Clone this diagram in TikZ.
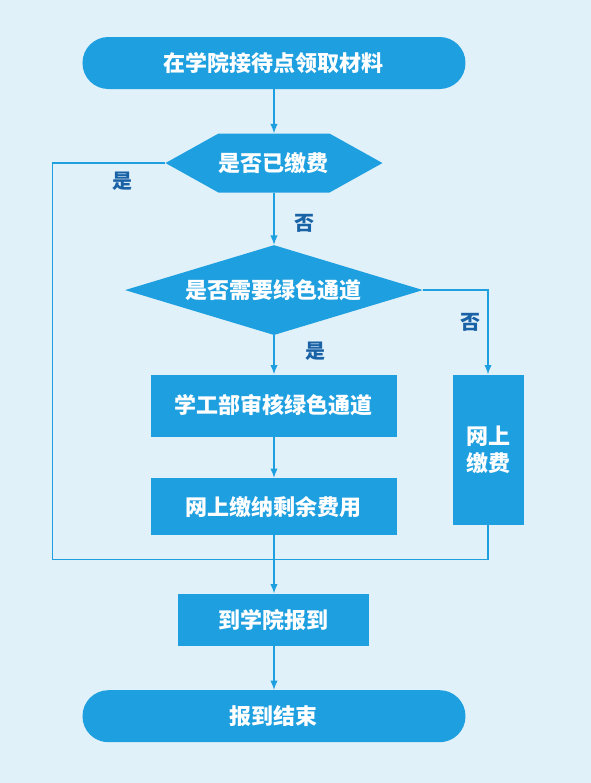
\documentclass[tikz,border=0pt]{standalone}
\usepackage{fontspec}
\newfontfamily\cjk{Noto Sans CJK SC}
\usepackage{tikz}
\usetikzlibrary{positioning}
\usetikzlibrary{arrows.meta}
\usetikzlibrary{shapes.geometric}
\definecolor{flowblue}{HTML}{1E9FE0}
\definecolor{paleblue}{HTML}{E1F1FA}
\definecolor{labelblue}{HTML}{1A62A6}
\tikzset{
  base/.style={fill=flowblue, text=white, inner sep=0pt,
    font=\cjk\bfseries\fontsize{16.5pt}{20pt}\selectfont},
  terminal/.style={base, rectangle, rounded corners=19.4pt,
    minimum width=287.25pt, minimum height=39pt},
  stepbox/.style={base, rectangle},
  hexcheck/.style={base, rectangle, fill=paleblue,
    minimum width=162.75pt, minimum height=44.25pt,
    path picture={\fill[flowblue] (path picture bounding box.west)
      -- ([xshift=39.75pt]path picture bounding box.north west)
      -- ([xshift=-39.75pt]path picture bounding box.north east)
      -- (path picture bounding box.east)
      -- ([xshift=-39.75pt]path picture bounding box.south east)
      -- ([xshift=39.75pt]path picture bounding box.south west) -- cycle;}},
  diacheck/.style={base, diamond, aspect=3.39,
    minimum width=223.5pt, minimum height=67.5pt},
  ln/.style={draw=flowblue, line width=0.9pt},
  arr/.style={ln, -{Latex[length=7pt,width=5.5pt]}},
  lbl/.style={text=labelblue, inner sep=0pt,
    font=\cjk\bfseries\fontsize{15pt}{17pt}\selectfont}
}
\begin{document}
\begin{tikzpicture}
    % background %
    \fill[paleblue] (-205.5pt,47.25pt) rectangle (237.75pt,-540pt);
    % nodes %
    \node[terminal] (start) at (0,0) {在学院接待点领取材料};
    \node[hexcheck, below=33pt of start] (paid) {是否已缴费};
    \node[diacheck, below=39pt of paid] (green) {是否需要绿色通道};
    \node[stepbox, below=29.25pt of green, minimum width=184.5pt, minimum height=46.5pt] (audit) {学工部审核绿色通道};
    \node[stepbox, below=30.75pt of audit, minimum width=184.5pt, minimum height=42.75pt] (rest) {网上缴纳剩余费用};
    \node[stepbox, below right=0pt and 41.25pt of audit.north east, minimum width=53.25pt, minimum height=112.5pt, align=center] (online) {网上\\缴费};
    \coordinate[below=18pt of rest] (join);
    \node[stepbox, below=43.5pt of rest, minimum width=143.25pt, minimum height=39pt] (report) {到学院报到};
    \node[terminal, below=33pt of report] (finish) {报到结束};
    % edges %
    \draw[arr] (start) -- (paid);
    \draw[arr] (paid) -- node[lbl, right=15pt, pos=0.58] {否} (green);
    \draw[ln] (paid.west) -- node[lbl, below=6pt, pos=0.38] {是} ++(-84.75pt,0) |- (join);
    \draw[arr] (green) -- node[lbl, right=23pt, pos=0.4] {是} (audit);
    \draw[arr] (green.east) -| node[lbl, left=5pt, pos=0.69] {否} (online.north);
    \draw[arr] (audit) -- (rest);
    \draw[ln] (rest) -- (join);
    \draw[ln] (online) |- (join);
    \draw[arr] (join) -- (report);
    \draw[arr] (report) -- (finish);
\end{tikzpicture}
\end{document}
